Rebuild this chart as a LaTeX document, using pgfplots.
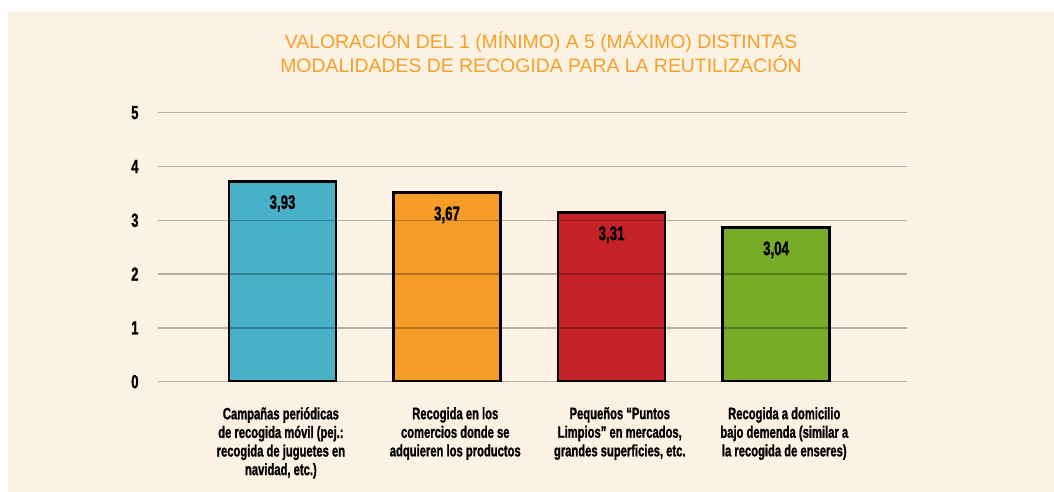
\documentclass[border=0pt]{standalone}
\usepackage{pgfplots}
\pgfplotsset{compat=1.18}
\usepackage{fontspec}
\setmainfont{Liberation Sans}
\newfontfamily\cond{Liberation Sans}[FakeStretch=0.68, BoldFeatures={FakeBold=1.2}]
\definecolor{bg}{RGB}{252,242,227}
\definecolor{ttl}{RGB}{247,160,40}
\definecolor{cblue}{RGB}{72,177,199}
\definecolor{corange}{RGB}{245,157,38}
\definecolor{cred}{RGB}{196,34,40}
\definecolor{cgreen}{RGB}{121,172,38}
\begin{document}
\begin{tikzpicture}[x=1pt,y=1pt]
\fill[white] (0,0) rectangle (1054,492);
\fill[bg] (8,0) rectangle (1054,480);
\node[align=center, text=ttl, font=\fontsize{19.4}{23.6}\selectfont] at (541,439.6)
  {VALORACIÓN DEL 1 (MÍNIMO) A 5 (MÁXIMO) DISTINTAS\\MODALIDADES DE RECOGIDA PARA LA REUTILIZACIÓN};
\begin{axis}[
  at={(158pt,110.3pt)}, anchor=south west,
  scale only axis, width=749pt, height=269pt,
  xmin=-0.757, xmax=3.796, ymin=0, ymax=5,
  ytick={0,1,2,3,4,5},
  xtick={-0.01,1.05,2.05,3.05},
  xticklabels={{Campañas periódicas\\de recogida móvil (pej.:\\recogida de juguetes en\\navidad, etc.)},
    {Recogida en los\\comercios donde se\\adquieren los productos},
    {Pequeños “Puntos\\Limpios” en mercados,\\grandes superficies, etc.},
    {Recogida a domicilio\\bajo demenda (similar a\\la recogida de enseres)}},
  xticklabel style={align=center, font=\cond\bfseries\fontsize{16.5}{18.6}\selectfont, anchor=north, yshift=-22pt, text=black},
  yticklabel style={font=\cond\bfseries\fontsize{19}{19}\selectfont, anchor=east, xshift=-16pt, text=black},
  /pgf/number format/assume math mode=true,
  ymajorgrids, grid style={black, opacity=0.28, line width=1.5pt},
  axis line style={draw=none}, major tick length=0pt,
  axis on top,
  ybar, bar width=107pt, bar shift=0pt,
  point meta=explicit symbolic,
  nodes near coords,
  every node near coord/.append style={font=\cond\bfseries\fontsize{19.5}{19.5}\selectfont, anchor=center, yshift=-22pt, text=black},
]
\addplot[fill=cblue, draw=black, line width=2.8pt] coordinates {(0,3.72) [3,93]};
\addplot[fill=corange, draw=black, line width=2.8pt] coordinates {(1,3.51) [3,67]};
\addplot[fill=cred, draw=black, line width=2.8pt] coordinates {(2,3.14) [3,31]};
\addplot[fill=cgreen, draw=black, line width=2.8pt] coordinates {(3,2.86) [3,04]};
\end{axis}
\end{tikzpicture}
\end{document}
